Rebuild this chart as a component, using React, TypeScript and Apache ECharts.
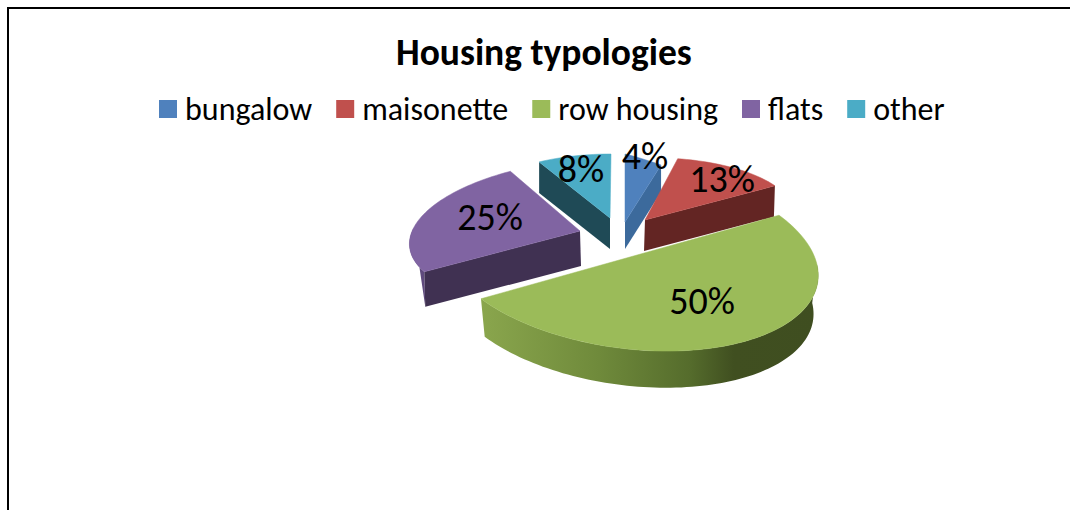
import React, { useEffect, useRef } from "react";
import * as echarts from "echarts";

const titleText = "Housing typologies";
const categories = ["bungalow", "maisonette", "row housing", "flats", "other"];
const values = [4, 13, 50, 25, 8];
const labels = ["4%", "13%", "50%", "25%", "8%"];
const topColors = ["#4f81bd", "#c0504d", "#9bbb59", "#8064a2", "#4bacc6"];
const sideColors = ["#3c6a9c", "#632523", "#4f6228", "#403152", "#1f4a56"];
const fontFamily = "Carlito, Lato, sans-serif";

// Projection of each exploded slice: apex, the two axes of its ellipse, the extrusion,
// how much the lower rim shrinks, label centre, and stacking order.
const slices = [
  { c: [625, 222], a: [145, 36], b: [0, -68], d: [0, 27], s: 0, l: [645, 156], z: 2 },
  { c: [645, 220], a: [151, -5], b: [-5, -62], d: [-1, 31], s: 0, l: [722, 179], z: 3 },
  { c: [630, 257], a: [186, 4], b: [-29, -94], d: [0, 39], s: 0.025, l: [702, 301], z: 5 },
  { c: [580, 231], a: [170, -7], b: [14, -72], d: [1, 35], s: 0, l: [490, 217], z: 4 },
  { c: [610, 218], a: [149, 0], b: [1, -64], d: [0, 31], s: 0, l: [581, 169], z: 1 },
];

const total = values.reduce((s, v) => s + v, 0);
const startOf = (i: number) => (values.slice(0, i).reduce((s, v) => s + v, 0) / total) * Math.PI * 2;

function rim(i: number, t: number, depth = 0): number[] {
  const s = slices[i];
  const k = 1 - s.s * depth;
  return [
    s.c[0] + (s.a[0] * Math.sin(t) + s.b[0] * Math.cos(t)) * k + s.d[0] * depth,
    s.c[1] + (s.a[1] * Math.sin(t) + s.b[1] * Math.cos(t)) * k + s.d[1] * depth,
  ];
}

function arc(i: number, t0: number, t1: number, depth = 0): number[][] {
  const n = Math.max(2, Math.ceil(Math.abs(t1 - t0) / 0.03));
  const out: number[][] = [];
  for (let k = 0; k <= n; k++) out.push(rim(i, t0 + ((t1 - t0) * k) / n, depth));
  return out;
}

function makeRender(i: number) {
  return () => {
    const s = slices[i];
    const t0 = startOf(i);
    const t1 = startOf(i + 1);
    const children: any[] = [];
    const apex = s.c;
    const apexLow = [s.c[0] + s.d[0], s.c[1] + s.d[1]];
    // Cut faces that look towards the viewer.
    const cut = (t: number, fill: any) => {
      const a = rim(i, t);
      const b = rim(i, t, 1);
      children.push({
        type: "polygon",
        shape: { points: [apex, a, b, apexLow] },
        style: { fill },
      });
    };
    if (i === 3) {
      // The flats slice's short outer wall tapers from its leftmost point to the lower corner.
      children.push({
        type: "polygon",
        shape: { points: [...arc(i, t0, (278 / 180) * Math.PI), rim(i, t0, 1)] },
        style: { fill: "#5f4a7d" },
      });
    }
    if (i === 0 || i === 1) cut(t1, sideColors[i]);
    if (i === 4 || i === 3) cut(t0, sideColors[i]);
    if (i === 2) {
      children.push({
        type: "polygon",
        shape: { points: [...arc(i, (92 / 180) * Math.PI, t1), ...arc(i, t1, (92 / 180) * Math.PI, 1)] },
        style: {
          fill: new echarts.graphic.LinearGradient(0, 0, 1, 0, [
            { offset: 0, color: "#8aa64d" },
            { offset: 0.35, color: "#6f8a3b" },
            { offset: 0.62, color: "#556c2c" },
            { offset: 0.75, color: "#404f20" },
            { offset: 1, color: "#3f4e20" },
          ]),
        },
      });
    }
    children.push({
      type: "polygon",
      shape: { points: [apex, ...arc(i, t0, t1)] },
      style: { fill: topColors[i], stroke: topColors[i], lineWidth: 0.5 },
    });
    children.push({
      type: "text",
      style: {
        x: s.l[0],
        y: s.l[1],
        text: labels[i],
        fill: "#000",
        font: `38px ${fontFamily}`,
        align: "center",
        verticalAlign: "middle",
      },
    });
    return { type: "group", children };
  };
}

export default function App() {
  const ref = useRef<HTMLDivElement>(null);
  useEffect(() => {
    const chart = echarts.init(ref.current!, undefined, { renderer: "svg" });
    chart.setOption({
      animation: false,
      backgroundColor: "#fff",
      color: topColors,
      title: {
        text: titleText,
        left: 391,
        top: 28,
        textStyle: { fontFamily, fontWeight: "bold", fontSize: 37.5, color: "#000" },
      },
      legend: {
        left: 154,
        top: 88,
        data: categories,
        icon: "rect",
        itemWidth: 18,
        itemHeight: 18,
        itemGap: 24,
        textStyle: { fontFamily, fontSize: 32, color: "#000", padding: [0, 0, 0, 3] },
      },
      graphic: [
        { type: "line", shape: { x1: 7.5, y1: 8, x2: 1070, y2: 8 }, style: { stroke: "#000", lineWidth: 2 } },
        { type: "line", shape: { x1: 8, y1: 7, x2: 8, y2: 510 }, style: { stroke: "#000", lineWidth: 2 } },
      ],
      series: categories.map((name, i) => ({
        type: "custom",
        name,
        coordinateSystem: "none",
        z: slices[i].z,
        itemStyle: { color: topColors[i] },
        data: [values[i]],
        renderItem: makeRender(i),
      })),
    });
    return () => chart.dispose();
  }, []);
  return <div ref={ref} style={{ position: "fixed", left: 0, top: 0, width: 1070, height: 510 }} />;
}
